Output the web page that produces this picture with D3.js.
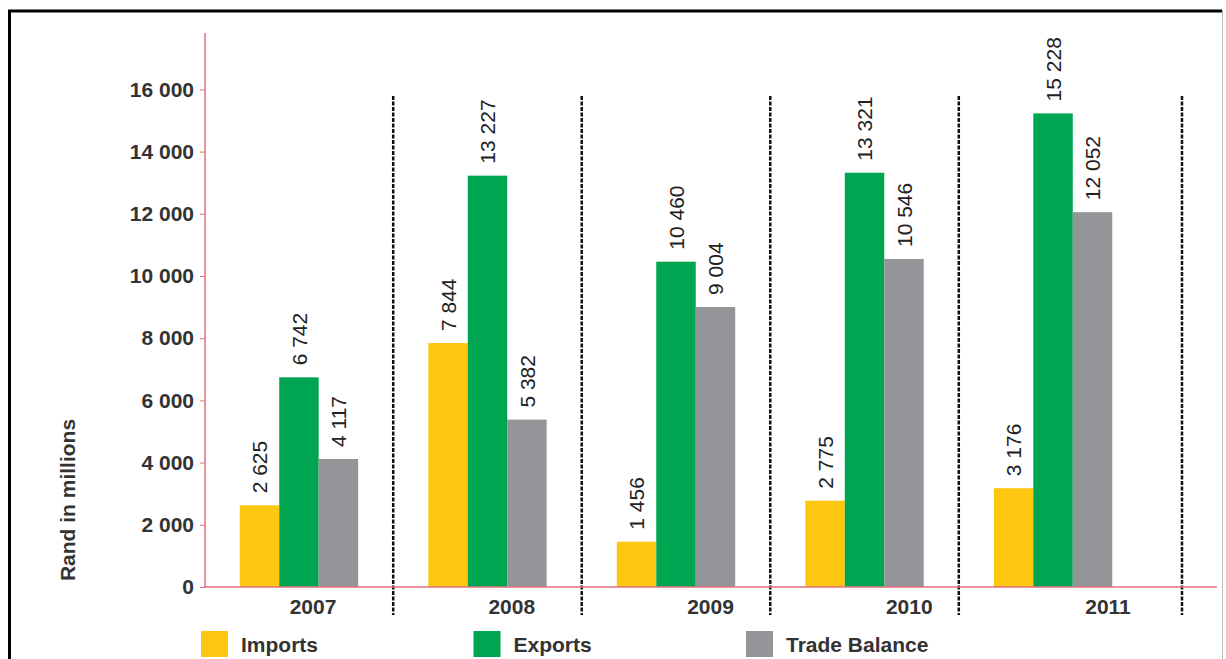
<!DOCTYPE html>
<html>
<head>
<meta charset="utf-8">
<script src="https://cdn.jsdelivr.net/npm/d3@7"></script>
<style>
    body { margin: 0; background: #fff; }
    svg { display: block; font-family: "Liberation Sans", Arial, sans-serif; }
</style>
</head>
<body>
<div id="chart"></div>
<script>
// Data
var years = ["2007", "2008", "2009", "2010", "2011"];
var imports = [2625, 7844, 1456, 2775, 3176];
var exportsVals = [6742, 13227, 10460, 13321, 15228];
var tradeBalance = [4117, 5382, 9004, 10546, 12052];
var seriesNames = ["Imports", "Exports", "Trade Balance"];
var seriesColors = ["#fdc60f", "#00a551", "#939598"];
var yTicks = [0, 2000, 4000, 6000, 8000, 10000, 12000, 14000, 16000];

function drawChart() {

    var width = 1226;
    var height = 659;
    var axisColor = "#e2707c";
    var textColor = "#333333";

    var svg = d3.select("#chart").append("svg")
        .attr("width", width)
        .attr("height", height);

    // space as thousands separator, like "13 227"
    var locale = d3.formatLocale({decimal: ".", thousands: " ", grouping: [3], currency: ["", ""]});
    var fmt = locale.format(",d");

    var y_scale = d3.scaleLinear()
        .domain([0, 16000])
        .range([587, 89.4]);

    // one band per year, bars sit inside the band
    var x_scale = d3.scaleBand()
        .domain(years)
        .range([170, 1182])
        .paddingInner(0.372)
        .paddingOuter(0.37);

    var x_series = d3.scaleBand()
        .domain(seriesNames)
        .range([0, x_scale.bandwidth()]);

    // year labels are spaced a bit wider than the bars
    var x_labels = d3.scalePoint()
        .domain(years)
        .range([313, 1108]);

    var rows = years.map(function(d, i) {
        return {year: d, values: [imports[i], exportsVals[i], tradeBalance[i]]};
    });

    // frame
    svg.append("line")
        .attr("x1", 8).attr("x2", 1222).attr("y1", 11).attr("y2", 11)
        .style("stroke", "#000").style("stroke-width", 3);
    svg.append("line")
        .attr("x1", 9.5).attr("x2", 9.5).attr("y1", 10).attr("y2", height)
        .style("stroke", "#000").style("stroke-width", 3);
    svg.append("line")
        .attr("x1", 1222.5).attr("x2", 1222.5).attr("y1", 10).attr("y2", height)
        .style("stroke", "#b8b8b8").style("stroke-width", 1);

    // dashed separators between the years
    var gap = x_scale.step() * x_scale.paddingInner();
    var sepX = years.map(function(d, i) {
        return i < years.length - 1 ? x_scale(d) + x_scale.bandwidth() + gap / 2 : x_scale.range()[1];
    });
    svg.selectAll(".sep")
        .data(sepX)
        .enter().append("line")
        .attr("class", "sep")
        .attr("x1", function(d) { return d; })
        .attr("x2", function(d) { return d; })
        .attr("y1", 96)
        .attr("y2", 615)
        .style("stroke", "#111")
        .style("stroke-width", 2.5)
        .style("stroke-dasharray", "4,1.5");

    // bars
    var groups = svg.selectAll(".year")
        .data(rows)
        .enter().append("g")
        .attr("class", "year")
        .attr("transform", function(d) { return "translate(" + x_scale(d.year) + ",0)"; });

    groups.selectAll("rect")
        .data(function(d) { return d.values; })
        .enter().append("rect")
        .attr("x", function(d, i) { return x_series(seriesNames[i]); })
        .attr("width", x_series.bandwidth())
        .attr("y", function(d) { return y_scale(d); })
        .attr("height", function(d) { return y_scale(0) - y_scale(d); })
        .style("fill", function(d, i) { return seriesColors[i]; });

    // rotated value labels above each bar
    groups.selectAll("text")
        .data(function(d) { return d.values; })
        .enter().append("text")
        .attr("transform", function(d, i) {
            var cx = x_series(seriesNames[i]) + x_series.bandwidth() / 2;
            return "translate(" + cx + "," + (y_scale(d) - 12) + ")rotate(-90)";
        })
        .attr("text-anchor", "start")
        .attr("dy", "0.36em")
        .style("font-size", "21px")
        .style("fill", "#222")
        .text(function(d) { return fmt(d); });

    // y axis
    var yAxis = svg.append("g")
        .attr("transform", "translate(205,0)")
        .call(d3.axisLeft(y_scale)
            .tickValues(yTicks)
            .tickSize(5)
            .tickPadding(6)
            .tickFormat(fmt));
    yAxis.select(".domain").remove();
    yAxis.selectAll(".tick line").style("stroke", axisColor);
    yAxis.selectAll(".tick text")
        .style("font-size", "21px")
        .style("font-weight", "bold")
        .style("fill", textColor);

    svg.append("line")
        .attr("x1", 205).attr("x2", 205)
        .attr("y1", 33).attr("y2", y_scale(0))
        .style("stroke", axisColor).style("stroke-width", 1.5);
    svg.append("line")
        .attr("x1", 205).attr("x2", 1217)
        .attr("y1", y_scale(0)).attr("y2", y_scale(0))
        .style("stroke", axisColor).style("stroke-width", 1.5);

    // year labels
    svg.selectAll(".yearLabel")
        .data(years)
        .enter().append("text")
        .attr("class", "yearLabel")
        .attr("x", function(d) { return x_labels(d); })
        .attr("y", 614)
        .attr("text-anchor", "middle")
        .style("font-size", "21px")
        .style("font-weight", "bold")
        .style("fill", textColor)
        .text(function(d) { return d; });

    svg.append("text")
        .attr("text-anchor", "middle")
        .attr("transform", "translate(75,500)rotate(-90)")
        .style("font-size", "21px")
        .style("font-weight", "bold")
        .style("fill", textColor)
        .text("Rand in millions");

    // legend
    var legend = svg.selectAll(".legend")
        .data(seriesNames)
        .enter().append("g")
        .attr("class", "legend")
        .attr("transform", function(d, i) { return "translate(" + (201 + i * 272.5) + ",631)"; });

    legend.append("rect")
        .attr("width", 27)
        .attr("height", 26)
        .style("fill", function(d, i) { return seriesColors[i]; });

    legend.append("text")
        .attr("x", 40)
        .attr("y", 21)
        .style("font-size", "21px")
        .style("font-weight", "bold")
        .style("fill", textColor)
        .text(function(d) { return d; });
}

drawChart();
</script>
</body>
</html>
